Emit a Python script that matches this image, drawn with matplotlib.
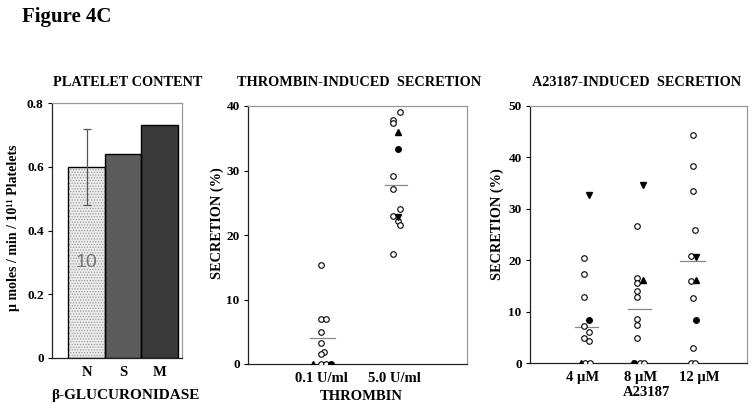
import numpy as np
import matplotlib
matplotlib.use('Agg')
import matplotlib.pyplot as plt

plt.rcParams['font.family'] = ['Liberation Serif', 'DejaVu Serif']
plt.rcParams['font.weight'] = 'bold'
plt.rcParams['hatch.linewidth'] = 0.6

#============================== data ==============================

# platelet content (beta-glucuronidase)
content_cats = ['N', 'S', 'M']
content_vals = [0.60, 0.64, 0.73]
content_err = [0.12, 0.0, 0.0]
content_n = '10'

# thrombin-induced secretion
thr_cats = ['0.1 U/ml', '5.0 U/ml']
thr_open = [[15.3, 6.9, 6.9, 5.0, 3.2, 1.8, 1.5, 0, 0],
            [39.0, 37.8, 37.3, 29.1, 27.1, 24.1, 22.9, 22.2, 21.6, 17.1]]
thr_filled = [[0], [33.4]]
thr_up = [[0], [36.0]]
thr_down = [[], [22.8]]
thr_mean = [4.1, 27.8]

# A23187-induced secretion
a23_cats = ['4 \u00b5M', '8 \u00b5M', '12 \u00b5M']
a23_open = [[20.4, 17.3, 12.8, 7.25, 5.95, 4.9, 4.3, 0, 0],
            [26.6, 16.5, 15.6, 14.1, 12.8, 8.6, 7.3, 4.9, 0, 0],
            [44.4, 38.4, 33.5, 25.9, 20.9, 15.9, 12.6, 2.9, 0, 0]]
a23_filled = [[8.4], [0], [8.4]]
a23_up = [[0], [16.2, 0], [16.2]]
a23_down = [[32.7], [34.7], [20.7]]
a23_mean = [7.0, 10.6, 19.8]

# horizontal jitter of the points (category units)
thr_open_dx = [[0, 0, 0.07, 0, 0, 0.045, 0, 0, 0.07],
               [0.08, -0.02, -0.02, -0.01, -0.01, 0.08, -0.01, 0.05, 0.08, -0.01]]
thr_filled_dx = [[0.14], [0.05]]
thr_up_dx = [[-0.11], [0.05]]
thr_down_dx = [[], [0.06]]
thr_mean_span = [(-0.15, 0.19), (-0.12, 0.18)]

a23_open_dx = [[0.02, 0.02, 0.02, 0.02, 0.11, 0.02, 0.11, 0.03, 0.12],
               [-0.06] * 8 + [-0.02, 0.06],
               [-0.11, -0.11, -0.11, -0.06, -0.13, -0.13, -0.11, -0.11, -0.13, -0.06]]
a23_filled_dx = [[0.11], [-0.12], [-0.05]]
a23_up_dx = [[-0.04], [0.04, -0.14], [-0.05]]
a23_down_dx = [[0.11], [0.04], [-0.05]]
a23_mean_span = [(-0.14, 0.26), (-0.23, 0.17), (-0.33, 0.10)]

W, H = 754, 408


def px_axes(fig, left, top, right, bottom):
    return fig.add_axes([left / W, 1 - bottom / H, (right - left) / W, (bottom - top) / H])


def style_axes(ax):
    ax.spines['top'].set_color('#999999')
    ax.spines['right'].set_color('#999999')
    ax.spines['left'].set_color('#222222')
    ax.spines['bottom'].set_color('#222222')
    for s in ax.spines.values():
        s.set_linewidth(0.9)
    ax.tick_params(axis='y', length=3, width=0.8, labelsize=9.5, pad=3)
    ax.tick_params(axis='x', length=0, labelsize=10.5, pad=6)
    for lab in ax.get_xticklabels() + ax.get_yticklabels():
        lab.set_fontweight('bold')


def scatter_panel(ax, cats, opens, opens_dx, filled, filled_dx, ups, ups_dx,
                  downs, downs_dx, means, spans):
    for i in range(len(cats)):
        xc = i + 1
        ax.plot(xc + np.array(opens_dx[i]), opens[i], 'o', ms=4, mfc='white',
                mec='black', mew=0.8, ls='none', zorder=3)
        ax.plot(xc + np.array(filled_dx[i]), filled[i], 'o', ms=4, color='black',
                ls='none', zorder=4)
        ax.plot(xc + np.array(ups_dx[i]), ups[i], '^', ms=4.5, color='black',
                ls='none', zorder=4)
        ax.plot(xc + np.array(downs_dx[i]), downs[i], 'v', ms=4.5, color='black',
                ls='none', zorder=4)
        ax.plot([xc + spans[i][0], xc + spans[i][1]], [means[i], means[i]],
                color='#888888', lw=0.9, zorder=2)
    ax.set_xticks(range(1, len(cats) + 1))
    ax.set_xticklabels(cats)


fig = plt.figure(figsize=(W / 100, H / 100), dpi=100)

fig.text(22 / W, 1 - 17 / H, 'Figure 4C', fontsize=15, fontweight='bold',
         va='center', ha='left')

#============================== panel 1 ==============================
ax1 = px_axes(fig, 52, 103, 182, 358)
x1 = np.arange(len(content_cats))
ax1.bar(x1[0], content_vals[0], width=1.0, color='#ececec', hatch='......',
        edgecolor='#9a9a9a', linewidth=0, zorder=2)
ax1.bar(x1[1:], content_vals[1:], width=1.0, color=['#5c5c5c', '#3a3a3a'],
        linewidth=0, zorder=2)
ax1.bar(x1, content_vals, width=1.0, fill=False, edgecolor='black',
        linewidth=1.0, zorder=3)
ax1.errorbar(x1[0], content_vals[0], yerr=content_err[0], color='#555555',
             elinewidth=0.9, capsize=3, capthick=0.9, zorder=4)
ax1.text(x1[0], 0.30, content_n, ha='center', va='center', fontsize=14,
         color='#777777', family='Liberation Sans', fontweight='normal', zorder=5)
ax1.set_xlim(-0.95, 2.62)
ax1.set_ylim(0, 0.8)
ax1.set_yticks([0, 0.2, 0.4, 0.6, 0.8])
ax1.set_yticklabels(['0', '0.2', '0.4', '0.6', '0.8'])
ax1.set_xticks(x1)
ax1.set_xticklabels(content_cats)
style_axes(ax1)

fig.text(128 / W, 1 - 82 / H, 'PLATELET CONTENT', ha='center', va='center',
         fontsize=10.3, fontweight='bold')
fig.text(125 / W, 1 - 395 / H, '\u03b2-GLUCURONIDASE', ha='center', va='center',
         fontsize=11, fontweight='bold')
fig.text(14 / W, 1 - 228 / H, '\u00b5 moles / min / 10\u00b9\u00b9 Platelets',
         rotation=90, ha='center', va='center', fontsize=10, fontweight='bold')

#============================== panel 2 ==============================
ax2 = px_axes(fig, 248, 106, 467, 364)
scatter_panel(ax2, thr_cats, thr_open, thr_open_dx, thr_filled, thr_filled_dx,
              thr_up, thr_up_dx, thr_down, thr_down_dx, thr_mean, thr_mean_span)
ax2.set_xlim(0, 3)
ax2.set_ylim(0, 40)
ax2.set_yticks([0, 10, 20, 30, 40])
style_axes(ax2)

fig.text(359 / W, 1 - 82 / H, 'THROMBIN-INDUCED  SECRETION', ha='center',
         va='center', fontsize=10.3, fontweight='bold')
fig.text(361 / W, 1 - 397 / H, 'THROMBIN', ha='center', va='center',
         fontsize=10.5, fontweight='bold')
fig.text(217 / W, 1 - 223 / H, 'SECRETION (%)', rotation=90, ha='center',
         va='center', fontsize=10.3, fontweight='bold')

#============================== panel 3 ==============================
ax3 = px_axes(fig, 530, 106, 747, 363)
scatter_panel(ax3, a23_cats, a23_open, a23_open_dx, a23_filled, a23_filled_dx,
              a23_up, a23_up_dx, a23_down, a23_down_dx, a23_mean, a23_mean_span)
ax3.set_xlim(0.086, 3.83)
ax3.set_ylim(0, 50)
ax3.set_yticks([0, 10, 20, 30, 40, 50])
style_axes(ax3)

fig.text(637 / W, 1 - 82 / H, 'A23187-INDUCED  SECRETION', ha='center',
         va='center', fontsize=10.3, fontweight='bold')
fig.text(647 / W, 1 - 393 / H, 'A23187', ha='center', va='center',
         fontsize=10.5, fontweight='bold')
fig.text(497 / W, 1 - 224 / H, 'SECRETION (%)', rotation=90, ha='center',
         va='center', fontsize=10.3, fontweight='bold')

fig.savefig('out.png', dpi=100)
